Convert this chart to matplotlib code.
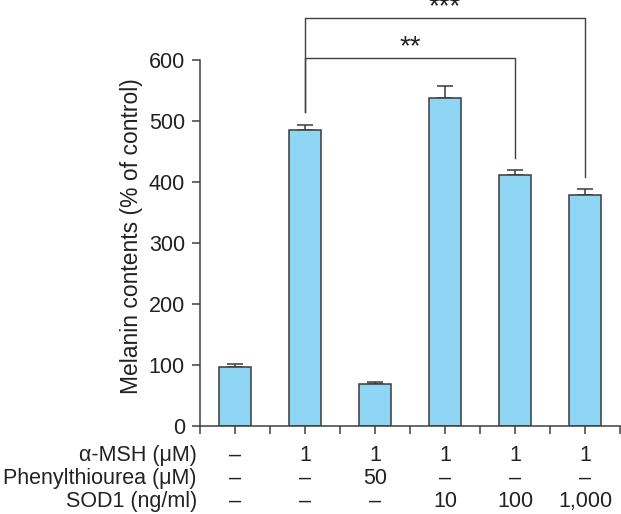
import numpy as np
import matplotlib
matplotlib.use('Agg')
import matplotlib.pyplot as plt
from matplotlib import rcParams

rcParams['font.family'] = ['Liberation Sans', 'DejaVu Sans']
rcParams['font.size'] = 15.5

# === data ===
melanin = [97, 486, 69, 537, 412, 379]
melanin_err = [4, 8, 3, 21, 7, 10]
msh = ['–', '1', '1', '1', '1', '1']
ptu = ['–', '–', '50', '–', '–', '–']
sod1 = ['–', '–', '–', '10', '100', '1,000']
row_labels = ['α-MSH (μM)', 'Phenylthiourea (μM)', 'SOD1 (ng/ml)']
# significance vs. alpha-MSH group
sig_pairs = [(1, 4, '**'), (1, 5, '***')]
sig_heights = [604, 669]

BAR = '#8ed6f4'
EDGE = '#3a3a3a'
AX = '#404040'
TXT = '#222222'

fig = plt.figure(figsize=(6.21, 5.14), dpi=100)
ax = fig.add_axes([200 / 621, 88 / 514, 420 / 621, 427 / 514])

x = np.arange(len(melanin))
ax.bar(x, melanin, width=0.45, color=BAR, edgecolor=EDGE, linewidth=1.1, zorder=2)
ax.errorbar(x, melanin, yerr=[np.zeros(len(melanin)), melanin_err], fmt='none',
            ecolor=EDGE, elinewidth=1.1, capsize=5.8, capthick=1.1, zorder=1)

ax.set_xlim(-0.5, 5.5)
ax.set_ylim(0, 700)
ax.spines['top'].set_visible(False)
ax.spines['right'].set_visible(False)
for s in ['left', 'bottom']:
    ax.spines[s].set_color(AX)
    ax.spines[s].set_linewidth(1.1)
ax.spines['left'].set_bounds(0, 600)
ax.set_yticks(np.arange(0, 601, 100))
ax.set_xticks(np.arange(-0.5, 5.51, 0.5))
ax.set_xticklabels([])
ax.tick_params(axis='both', direction='out', length=5.8, width=1.1, color=AX,
               labelsize=15.5, labelcolor=TXT)
ax.tick_params(axis='y', pad=5)
ax.set_ylabel('Melanin contents (% of control)', fontsize=16.5, color=TXT)
ax.yaxis.set_label_coords(-0.136, 0.445)

# treatment table under the axis
tr = ax.get_xaxis_transform()
row_y = [-0.068, -0.122, -0.176]
for yy, lab, vals in zip(row_y, row_labels, [msh, ptu, sod1]):
    ax.text(-0.545, yy, lab, transform=tr, ha='right', va='center', color=TXT)
    for xi, v in zip(x, vals):
        ax.text(xi, yy, v, transform=tr, ha='center', va='center', color=TXT)

# significance brackets
for (a, b, star), h in zip(sig_pairs, sig_heights):
    ya = melanin[a] + melanin_err[a] + 20
    yb = melanin[b] + melanin_err[b] + 20
    ax.plot([a, a, b, b], [ya, h, h, yb], color=AX, lw=1.0, clip_on=False)
    ax.text((a + b) / 2, h + 17, star, ha='center', va='center', fontsize=20,
            color=TXT, clip_on=False)

fig.savefig('out.png', dpi=100)
